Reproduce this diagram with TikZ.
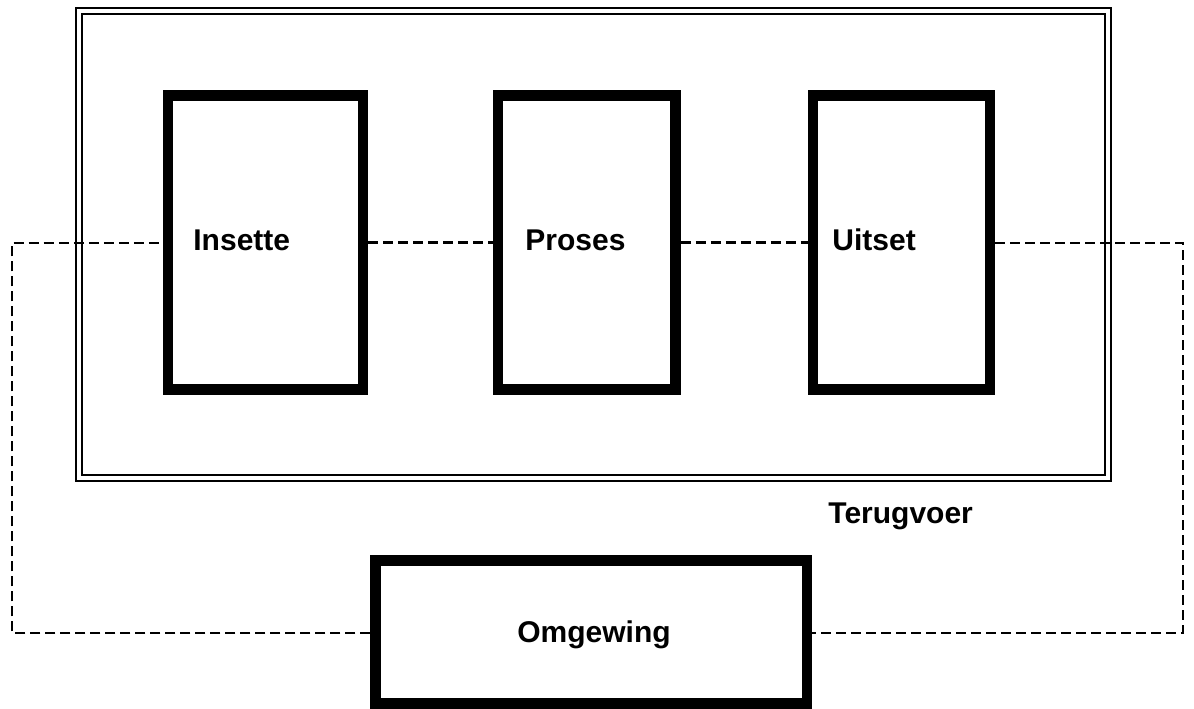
\documentclass[tikz,border=0pt]{standalone}
\usepackage{fontspec}
\setmainfont{Liberation Sans}
\begin{document}
\begin{tikzpicture}[x=0.5pt,y=-0.5pt,
  blockbox/.style={draw=black, line width=5.25pt, inner sep=0pt, fill=none},
  framebox/.style={draw=black, inner sep=0pt},
  lbl/.style={font=\fontsize{15}{18}\selectfont\bfseries, inner sep=0pt, anchor=base west},
  link/.style={draw=black, line width=1.2pt, dash pattern=on 5pt off 2.5pt}]
\useasboundingbox (0,0) rectangle (1194,708);
% outer double frame
\node[framebox, line width=1.4pt, minimum width=517.5pt, minimum height=236.5pt] (frameout) at (593.5,244.5) {};
\node[framebox, line width=1pt, minimum width=511.5pt, minimum height=230.5pt] (framein) at (593.5,244.5) {};
% blocks
\node[blockbox, minimum width=97.5pt, minimum height=147pt] (ins) at (265.5,242.5) {};
\node[blockbox, minimum width=88.75pt, minimum height=147pt] (pro) at (586.75,242.5) {};
\node[blockbox, minimum width=88.5pt, minimum height=147pt] (uit) at (901.5,242.5) {};
\node[blockbox, minimum width=215.75pt, minimum height=71.5pt] (omg) at (591.25,632) {};
% labels
\node[lbl] (tins) at (193,250) {Insette};
\node[lbl] (tpro) at (525,250) {Proses};
\node[lbl] (tuit) at (832,250) {Uitset};
\node[lbl] (tter) at (828,523) {Terugvoer};
\node[lbl, anchor=base] (tomg) at (594,642) {Omgewing};
% feedback corners
\coordinate (tl) at (12,243);
\coordinate (bl) at (12,633);
\coordinate (tr) at (1183,243);
\coordinate (br) at (1183,633);
% dashed connectors
\draw[link] (omg.west |- bl) -- (bl) -- (tl) -- (ins.west |- tl);
\draw[link] (ins.east) -- (pro.west);
\draw[link] (pro.east) -- (uit.west);
\draw[link] (uit.east |- tr) -- (tr) -- (br) -- (omg.east |- br);
\end{tikzpicture}
\end{document}
